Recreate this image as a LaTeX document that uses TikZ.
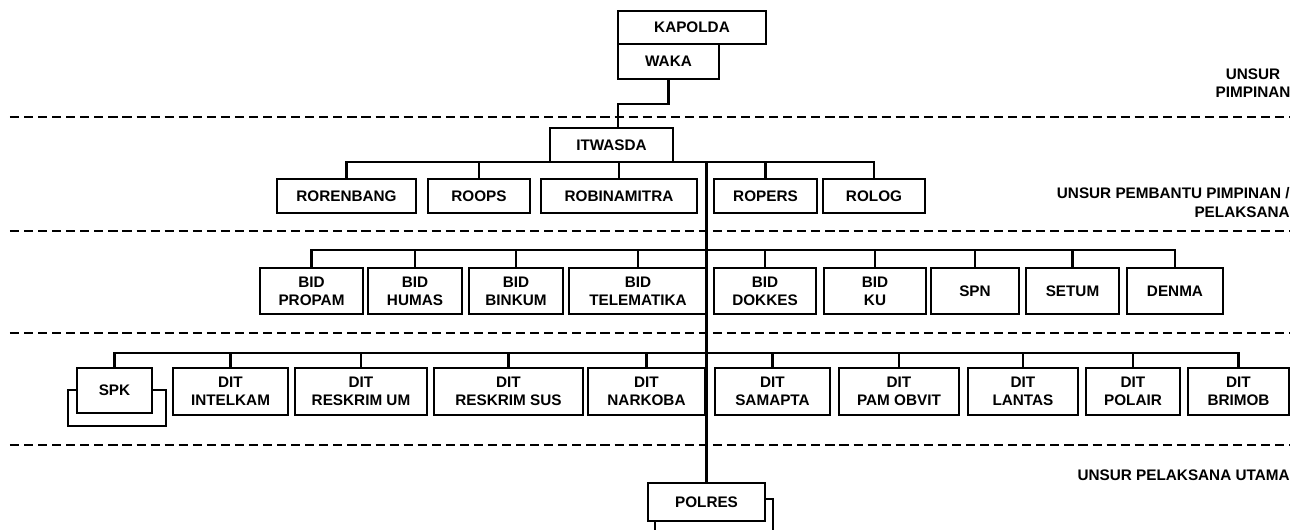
\documentclass[tikz,border=0pt]{standalone}
\usepackage{fontspec}
\setmainfont{Liberation Sans}
\usetikzlibrary{positioning}

\begin{document}
\begin{tikzpicture}[
    % organisation units (one line)
    unit/.style={rectangle, draw=black, line width=1.1pt, fill=white,
                 minimum height=0.68cm, inner sep=1pt, outer sep=0pt, align=center,
                 font=\fontsize{8.7}{10.2}\selectfont\bfseries},
    % two-line units of the lower rows
    unitii/.style={unit, minimum height=0.93cm},
    % level labels at the right margin
    tierlabel/.style={inner sep=0pt, font=\fontsize{8.7}{10.6}\selectfont\bfseries},
    link/.style={line width=1.2pt, black},
    divider/.style={line width=1.2pt, black, dash pattern=on 5.2pt off 2.8pt}
]
\useasboundingbox (0,0) rectangle (26.12,-10.58);
\clip (0,0) rectangle (26.12,-10.58);

%-------- UNSUR PIMPINAN --------
\node[unit, minimum width=2.96cm, minimum height=0.66cm] (kapolda) at (13.84,-0.55) {KAPOLDA};
\node[unit, minimum width=2.02cm, minimum height=0.70cm, anchor=north west]
    (waka) at (kapolda.south west) {WAKA};

%-------- PEMBANTU PIMPINAN --------
\node[unit, minimum width=2.46cm] (itwasda) at (12.23,-2.9) {ITWASDA};
\node[unit, minimum width=2.78cm] (rorenbang) at (6.93,-3.92) {RORENBANG};
\node[unit, minimum width=2.04cm, right=0.24cm of rorenbang] (roops)       {ROOPS};
\node[unit, minimum width=3.12cm, right=0.22cm of roops]     (robinamitra) {ROBINAMITRA};
\node[unit, minimum width=2.06cm, right=0.34cm of robinamitra] (ropers)    {ROPERS};
\node[unit, minimum width=2.04cm, right=0.12cm of ropers]    (rolog)       {ROLOG};

%-------- PELAKSANA --------
\node[unitii, minimum width=2.06cm] (propam) at (6.23,-5.82) {BID\\PROPAM};
\node[unitii, minimum width=1.88cm, right=0.10cm of propam]     (humas)      {BID\\HUMAS};
\node[unitii, minimum width=1.88cm, right=0.14cm of humas]      (binkum)     {BID\\BINKUM};
\node[unitii, minimum width=2.76cm, right=0.12cm of binkum]     (telematika) {BID\\TELEMATIKA};
\node[unitii, minimum width=2.04cm, right=0.14cm of telematika] (dokkes)     {BID\\DOKKES};
\node[unitii, minimum width=2.04cm, right=0.16cm of dokkes]     (ku)         {BID\\KU};
\node[unitii, minimum width=1.76cm, right=0.10cm of ku]         (spn)        {SPN};
\node[unitii, minimum width=1.86cm, right=0.14cm of spn]        (setum)      {SETUM};
\node[unitii, minimum width=1.92cm, right=0.16cm of setum]      (denma)      {DENMA};

%-------- PELAKSANA UTAMA (DIT) --------
\node[unit, minimum width=1.96cm, minimum height=0.72cm] (spkback) at (2.34,-8.16) {};
\node[unit, minimum width=1.50cm, minimum height=0.90cm] (spk) at (2.29,-7.81) {SPK};
\node[unitii, minimum width=2.30cm] (intelkam) at (4.61,-7.83) {DIT\\INTELKAM};
\node[unitii, minimum width=2.64cm, right=0.14cm of intelkam]   (reskrimum)  {DIT\\RESKRIM UM};
\node[unitii, minimum width=2.98cm, right=0.14cm of reskrimum]  (reskrimsus) {DIT\\RESKRIM SUS};
\node[unitii, minimum width=2.34cm, right=0.10cm of reskrimsus] (narkoba)    {DIT\\NARKOBA};
\node[unitii, minimum width=2.30cm, right=0.20cm of narkoba]    (samapta)    {DIT\\SAMAPTA};
\node[unitii, minimum width=2.40cm, right=0.18cm of samapta]    (pamobvit)   {DIT\\PAM OBVIT};
\node[unitii, minimum width=2.20cm, right=0.18cm of pamobvit]   (lantas)     {DIT\\LANTAS};
\node[unitii, minimum width=1.88cm, right=0.16cm of lantas]     (polair)     {DIT\\POLAIR};
\node[unitii, minimum width=2.02cm, right=0.16cm of polair]     (brimob)     {DIT\\BRIMOB};

%-------- KEWILAYAHAN --------
\node[unit, minimum width=2.36cm, minimum height=1.22cm] (polresback) at (14.28,-10.59) {};
\node[unit, minimum width=2.34cm, minimum height=0.76cm] (polres) at (14.13,-10.04) {POLRES};

%-------- LINES: command --------
\draw[link] (waka.south) -- ++(0,-0.5) -| (itwasda.north -| kapolda.west);
\draw[link] (rorenbang.north) |- (rolog.north |- itwasda.south) -- (rolog.north);
\draw[link] (roops.north)       -- (roops.north |- itwasda.south);
\draw[link] (robinamitra.north) -- (robinamitra.north |- itwasda.south);
\draw[link] (ropers.north)      -- (ropers.north |- itwasda.south);
\draw[link] (polres.north |- itwasda.south) -- (polres.north);

%-------- LINES: bid / dit --------
\coordinate (bar3) at (0,-5.0);
\coordinate (bar4) at (0,-7.06);
\draw[link] (propam.north) |- (denma.north |- bar3) -- (denma.north);
\draw[link] (humas.north)      -- (humas.north |- bar3);
\draw[link] (binkum.north)     -- (binkum.north |- bar3);
\draw[link] (telematika.north) -- (telematika.north |- bar3);
\draw[link] (dokkes.north)     -- (dokkes.north |- bar3);
\draw[link] (ku.north)         -- (ku.north |- bar3);
\draw[link] (spn.north)        -- (spn.north |- bar3);
\draw[link] (setum.north)      -- (setum.north |- bar3);
\draw[link] (spk.north) |- (brimob.north |- bar4) -- (brimob.north);
\draw[link] (intelkam.north)   -- (intelkam.north |- bar4);
\draw[link] (reskrimum.north)  -- (reskrimum.north |- bar4);
\draw[link] (reskrimsus.north) -- (reskrimsus.north |- bar4);
\draw[link] (narkoba.north)    -- (narkoba.north |- bar4);
\draw[link] (samapta.north)    -- (samapta.north |- bar4);
\draw[link] (pamobvit.north)   -- (pamobvit.north |- bar4);
\draw[link] (lantas.north)     -- (lantas.north |- bar4);
\draw[link] (polair.north)     -- (polair.north |- bar4);

%-------- DIVIDERS --------
\draw[divider] (0.2,-2.34) -- (25.8,-2.34);
\draw[divider] (0.2,-4.62) -- (25.8,-4.62);
\draw[divider] (0.2,-6.66) -- (25.8,-6.66);
\draw[divider] (0.2,-8.90) -- (25.8,-8.90);

%-------- LEVEL LABELS --------
\node[tierlabel, align=center] (lblpimpinan) at (25.06,-1.66) {UNSUR\\PIMPINAN};
\node[tierlabel, align=right, anchor=east] (lblpembantu) at (25.8,-4.05)
    {UNSUR PEMBANTU PIMPINAN /\\PELAKSANA};
\node[tierlabel, anchor=east] (lblutama) at (25.8,-9.5) {UNSUR PELAKSANA UTAMA};

\end{tikzpicture}
\end{document}
